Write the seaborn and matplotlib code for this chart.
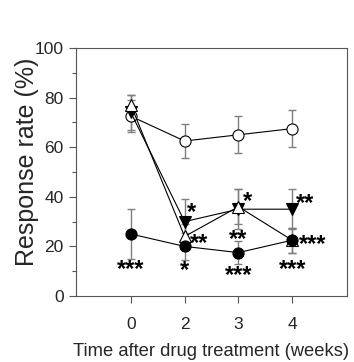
import matplotlib
matplotlib.use("Agg")
import matplotlib.pyplot as plt
import seaborn as sns
import numpy as np
import pandas as pd
from matplotlib.ticker import MultipleLocator

sns.set_style("ticks")
plt.rcParams['font.family'] = ['Liberation Sans', 'DejaVu Sans']

weeks = ["0", "2", "3", "4"]
open_circle = [72.5, 62.5, 65.0, 67.5]
open_circle_err = [6.5, 7.0, 7.5, 7.5]
down_tri = [74.0, 30.0, 35.0, 35.0]
down_tri_err = [7.0, 9.0, 8.0, 8.0]
up_tri = [77.0, 24.0, 36.0, 22.5]
up_tri_err = [4.0, 5.0, 7.0, 5.0]
filled_circle = [25.0, 20.0, 17.5, 22.5]
filled_circle_err = [10.0, 5.5, 4.5, 5.0]

# significance labels: (week index, y value, text)
sig_weeks = [0, 1, 2, 3, 1, 1, 2, 2, 3, 3]
sig_y = [11.7, 11.3, 9.3, 11.7, 34.7, 22.2, 39.0, 23.8, 38.3, 21.8]
sig_text = ["***", "*", "***", "***", "*", "**", "*", "**", "**", "***"]
sig_dx = [0, 0, 0, 0, 0.13, 0.26, 0.17, 0, 0.24, 0.39]

fig = plt.figure(figsize=(3.54, 3.62), dpi=100)
ax = fig.add_axes([0.2147, 0.1823, 0.7655, 0.6851])

xpos = np.arange(len(weeks))
series = [
    (open_circle, open_circle_err, 'o', 'white'),
    (down_tri, down_tri_err, 'v', 'black'),
    (up_tri, up_tri_err, '^', 'white'),
    (filled_circle, filled_circle_err, 'o', 'black'),
]
for vals, errs, mk, fc in series:
    ax.errorbar(xpos, vals, yerr=errs, fmt='none', ecolor='#7f7f7f',
                elinewidth=1.0, capsize=3, capthick=1.0, zorder=1)
for vals, errs, mk, fc in series:
    df = pd.DataFrame({"x": xpos, "y": vals})
    sns.lineplot(data=df, x="x", y="y", ax=ax, color='black', linewidth=0.8,
                 marker=mk, markersize=8, markerfacecolor=fc,
                 markeredgecolor='black', markeredgewidth=0.8, zorder=3)

for w, y, t, dx in zip(sig_weeks, sig_y, sig_text, sig_dx):
    ax.text(w + dx, y, t, ha='center', va='center_baseline', fontsize=17,
            fontweight='bold', color='black')

ax.set_xlim(-1.02, 4.02)
ax.set_ylim(0, 100)
ax.set_xticks(xpos)
ax.set_xticklabels(weeks)
ax.yaxis.set_major_locator(MultipleLocator(20))
ax.yaxis.set_minor_locator(MultipleLocator(10))
ax.tick_params(axis='both', which='major', labelsize=12.5, length=5, width=0.8,
               direction='out', color='#555555')
ax.tick_params(axis='y', which='minor', length=3, width=0.8, color='#555555')
ax.tick_params(axis='x', which='major', pad=10)
ax.tick_params(axis='y', which='major', pad=4)
for s in ax.spines.values():
    s.set_color('#555555')
    s.set_linewidth(0.8)
ax.set_xlabel("Time after drug treatment (weeks)", fontsize=13.2)
ax.xaxis.set_label_coords(0.5, -0.225)
ax.xaxis.label.set_va('center')
ax.set_ylabel("Response rate (%)", fontsize=18, va='center')
ax.yaxis.set_label_coords(-0.181, 0.54)

fig.savefig("out.png", dpi=100)
